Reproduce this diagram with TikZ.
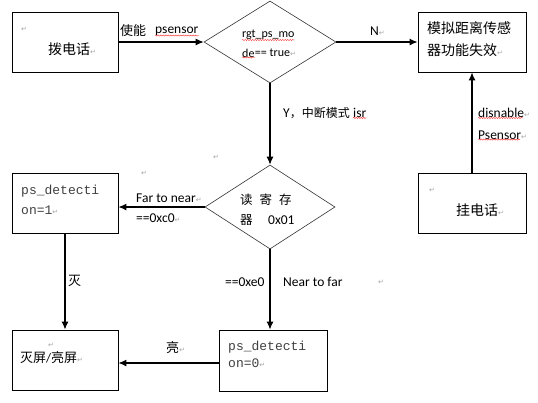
\documentclass[tikz,border=0pt]{standalone}
\usepackage{fontspec}
\setmainfont{Carlito}
\newfontfamily\cjk{Noto Sans CJK SC}
\newfontfamily\monof{Liberation Mono}
\newfontfamily\dvs{DejaVu Sans}
\usetikzlibrary{arrows.meta,shapes.geometric,decorations.pathmorphing}
\newcommand\pmk{{\color{black!35}\dvs\fontsize{7}{8}\selectfont\char"21B5}}
\tikzset{
  box/.style={draw, line width=0.9pt, minimum width=106pt, minimum height=60pt, inner sep=0pt},
  dia/.style={draw=black!80, diamond, line width=0.6pt, inner sep=0pt},
  flow/.style={line width=1.1pt, -{Latex[length=8pt,width=7pt]}},
  txt/.style={anchor=west, inner sep=0pt, font=\fontsize{13.5}{15}\selectfont},
  small/.style={anchor=west, inner sep=0pt, font=\fontsize{12}{14}\selectfont},
  big/.style={anchor=west, inner sep=0pt, font=\cjk\fontsize{14}{16}\selectfont},
  mid/.style={anchor=west, inner sep=0pt, font=\cjk\fontsize{13}{15}\selectfont},
  mono/.style={anchor=west, inner sep=0pt, text=black!75, font=\monof\fontsize{13}{15}\selectfont},
  pm/.style={anchor=west, inner sep=0pt, text=black!35, font=\dvs\fontsize{7}{8}\selectfont},
  sq/.style={draw=red!80, line width=0.4pt, decorate, decoration={snake, amplitude=0.6pt, segment length=2.5pt}},
}
\begin{document}
\begin{tikzpicture}[x=1pt,y=-1pt]
\useasboundingbox (0,0) rectangle (538,402);
\fill[white] (0,0) rectangle (538,402);

% boxes
\node[box] (call) at (65,42) {};
\node[box, minimum width=108pt] (fail) at (472,42) {};
\node[box] (ps1) at (65,203) {};
\node[box, minimum width=108pt] (hang) at (472,203.5) {};
\node[box] (scr) at (65,360) {};
\node[box, minimum width=108pt, minimum height=61pt] (ps0) at (273,360.5) {};
% diamonds
\node[dia, minimum width=132pt, minimum height=82pt] (d1) at (270,42) {};
\node[dia, minimum width=130pt, minimum height=84pt] (d2) at (270,207) {};

% connectors
\draw[flow] (call.east) -- (d1.west);
\draw[flow] (d1.east) -- (fail.west);
\draw[flow] (d1.south) -- (d2.north);
\draw[flow] (d2.west) -- (d2.west -| ps1.east);
\draw[flow] (ps1.south) -- (scr.north);
\draw[flow] (d2.south) -- (d2.south |- ps0.north);
\draw[flow] ([yshift=-2.5pt]ps0.west) -- ([yshift=-2.5pt]ps0.west -| scr.east);
\draw[flow] (hang.north) -- (fail.south);

% box texts
\node[pm] (m1) at (21,29) {\char"21B5};
\node[big] (t1) at (48,49) {拨电话\pmk};
\node[big] (t2a) at (427,28) {模拟距离传感};
\node[big] (t2b) at (427,50) {器功能失效\pmk};
\node[mono] (t3a) at (21,191) {ps\_detecti};
\node[mono] (t3b) at (21,210) {on=1\pmk};
\node[pm] (m2) at (429,190) {\char"21B5};
\node[big] (t4) at (456,210) {挂电话\pmk};
\node[pm] (m3) at (48,345) {\char"21B5};
\node[anchor=west, inner sep=0pt, font=\fontsize{13}{15}\selectfont] (t5) at (20,358) {{\cjk 灭屏}/{\cjk 亮屏}\pmk};
\node[mono] (t6a) at (228,347) {ps\_detecti};
\node[mono] (t6b) at (228,363) {on=0\pmk};

% diamond texts
\node[small] (r1) at (242,35) {rgt\_ps\_mo};
\node[small] (r2a) at (242,53) {de};
\node[small, anchor=west] (r2b) at (r2a.east) {== true\pmk};
\draw[sq] (r1.south west) -- (r1.south east);
\draw[sq] (r2a.south west) -- (r2a.south east);
\node[anchor=west, inner sep=0pt, font=\cjk\fontsize{12.5}{15}\selectfont] (q1) at (240,200) {读\hspace{7pt}寄\hspace{7pt}存};
\node[anchor=west, inner sep=0pt, font=\cjk\fontsize{12.5}{15}\selectfont] (q2) at (240,220) {器};
\node[txt] (q3) at (268,220) {0x01};

% connector labels
\node[mid] (l1a) at (120,31) {使能};
\node[txt] (l1b) at (155,31) {psensor};
\draw[sq] (l1b.south west) -- (l1b.south east);
\node[txt] (l2) at (370,31) {N\pmk};
\node[anchor=west, inner sep=0pt, font=\cjk\fontsize{12}{14}\selectfont] (l3a) at (283,113) {{\fontspec{Carlito}\fontsize{13.5}{15}\selectfont Y}，中断模式};
\node[txt] (l3b) at ([xshift=3pt]l3a.east) {isr};
\draw[sq] (l3b.south west) -- (l3b.south east);
\node[txt] (l4a) at (478,113) {disnable\pmk};
\node[txt] (l4b) at (478,135) {Psensor\pmk};
\draw[sq] (l4a.south west) -- ([xshift=-7pt]l4a.south east);
\draw[sq] (l4b.south west) -- ([xshift=-7pt]l4b.south east);
\node[pm] (m4) at (213,157) {\char"21B5};
\node[pm] (m5) at (141,173) {\char"21B5};
\node[txt] (l5a) at (136,198) {Far to near\pmk};
\node[txt] (l5b) at (136,218) {==0xc0\pmk};
\node[mid] (l6) at (68,281) {灭};
\node[txt] (l7a) at (225,282) {==0xe0};
\node[txt] (l7b) at (283,282) {Near to far};
\node[pm] (m6) at (378,282) {\char"21B5};
\node[mid] (l8) at (166,348) {亮\pmk};
\end{tikzpicture}
\end{document}
